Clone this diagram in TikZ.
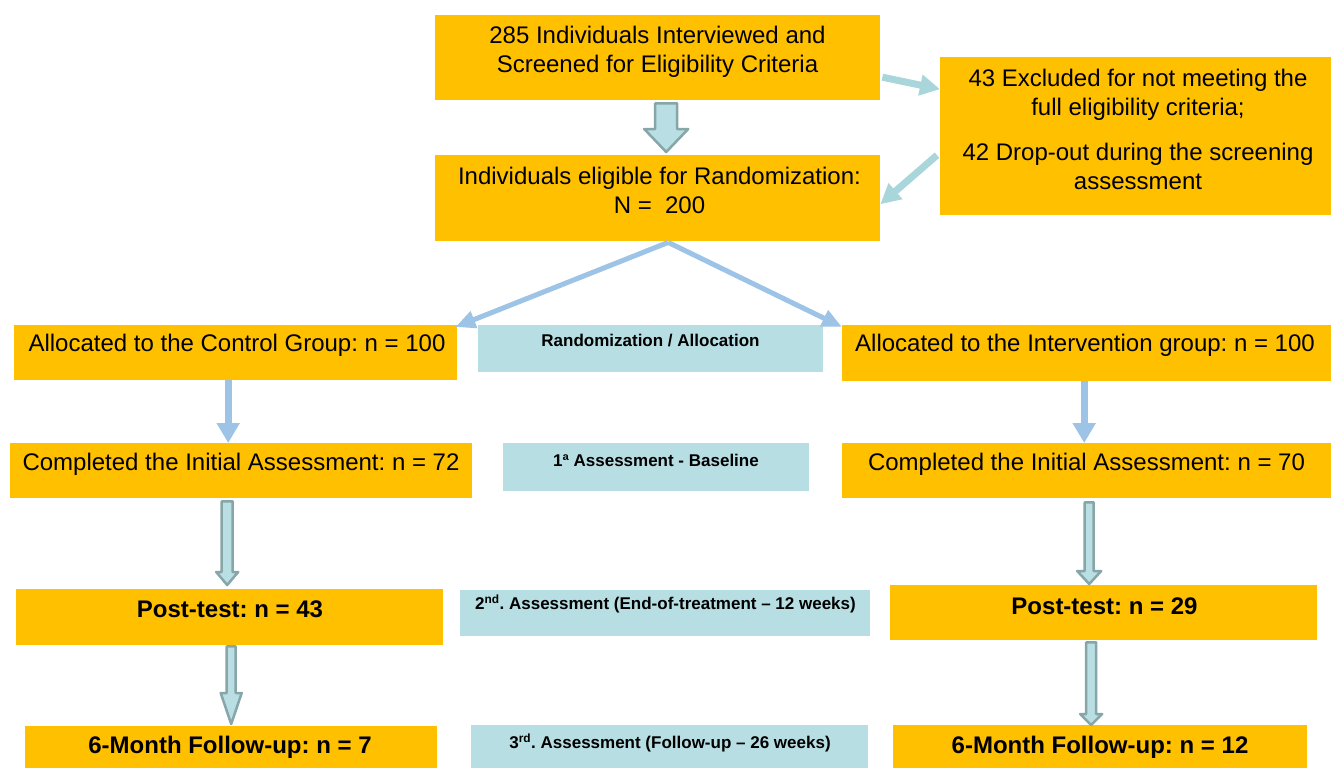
\documentclass[tikz,border=0pt]{standalone}
\usepackage{fontspec}
\setmainfont{Liberation Sans}
\usetikzlibrary{arrows.meta,calc}
\definecolor{orng}{HTML}{FFC000}
\definecolor{lblue}{HTML}{B7DEE3}
\definecolor{arrfill}{HTML}{B9DEE3}
\definecolor{arrline}{HTML}{86A6A8}
\definecolor{thinblue}{HTML}{9DC3E6}
\definecolor{cyanarr}{HTML}{A9D6DA}
\frenchspacing
% fat down arrow: start, end, shaft half width, head half width, head length
\newcommand\fatarr[5]{%
  \draw[fatarrow] let \p1=#1, \p2=#2 in
    (\x1-#3pt,\y1) -- (\x1-#3pt,\y2+#5pt) -- (\x1-#4pt,\y2+#5pt) -- (\x1,\y2)
    -- (\x1+#4pt,\y2+#5pt) -- (\x1+#3pt,\y2+#5pt) -- (\x1+#3pt,\y1) -- cycle;}
\begin{document}
\begin{tikzpicture}[x=1pt,y=-1pt,
  obox/.style={fill=orng, draw=none, inner sep=0pt, anchor=north west},
  bbox/.style={fill=lblue, draw=none, inner sep=0pt, anchor=north west},
  txt/.style={font=\fontsize{24}{29}\selectfont, align=center, inner sep=0pt},
  btxt/.style={font=\fontsize{24}{29}\selectfont\bfseries, align=center, inner sep=0pt},
  stxt/.style={font=\fontsize{17}{20}\selectfont\bfseries, align=center, inner sep=0pt},
  fatarrow/.style={fill=arrfill, draw=arrline, line width=2.5pt, line join=round},
  thinarrow/.style={draw=thinblue, line width=7pt, -{Triangle[width=22pt,length=20pt]}},
  splitarrow/.style={draw=thinblue, line width=5pt, -{Triangle[width=17pt,length=20pt]}},
  sidearrow/.style={draw=cyanarr, line width=7pt, -{Triangle[width=20pt,length=20pt]}},
]
\useasboundingbox[fill=white] (0,0) rectangle (1331,768);

% boxes
\node[obox, minimum width=445pt, minimum height=85pt] (top) at (435,15) {};
\node[obox, minimum width=391pt, minimum height=158pt] (excl) at (940,57) {};
\node[obox, minimum width=445pt, minimum height=86pt] (elig) at (435,155) {};
\node[obox, minimum width=443pt, minimum height=55pt] (cg) at (14,325) {};
\node[bbox, minimum width=345pt, minimum height=47pt] (rnd) at (478,325) {};
\node[obox, minimum width=489pt, minimum height=56pt] (ig) at (842,325) {};
\node[obox, minimum width=462pt, minimum height=55pt] (cc) at (10,443) {};
\node[bbox, minimum width=306pt, minimum height=48pt] (bl) at (503,443) {};
\node[obox, minimum width=489pt, minimum height=55pt] (ic) at (842,443) {};
\node[obox, minimum width=427pt, minimum height=56pt] (pc) at (16,589) {};
\node[bbox, minimum width=410pt, minimum height=46pt] (a2) at (460,590) {};
\node[obox, minimum width=427pt, minimum height=55pt] (pi) at (890,585) {};
\node[obox, minimum width=412pt, minimum height=42pt] (fc) at (25,726) {};
\node[bbox, minimum width=397pt, minimum height=43pt] (a3) at (471,725) {};
\node[obox, minimum width=414pt, minimum height=43pt] (fi) at (893,725) {};

% texts
\node[txt] (toptxt) at (657.5,51.5) {285 Individuals Interviewed and\\Screened for Eligibility Criteria};
\node[txt] (excltxt) at (1138,129) {43 Excluded for not meeting the\\full eligibility criteria;\\[16pt]42 Drop-out during the screening\\assessment};
\node[txt] (eligtxt) at (659.5,190.5) {Individuals eligible for Randomization:\\N =\ \ 200};
\node[txt] (cgtxt) at (237,345) {Allocated to the Control Group: n = 100};
\node[stxt] (rndtxt) at (650.5,341) {Randomization / Allocation};
\node[txt] (igtxt) at (1085,345) {Allocated to the Intervention group: n = 100};
\node[txt] (cctxt) at (241,464) {Completed the Initial Assessment: n = 72};
\node[stxt] (bltxt) at (656,460) {1ª Assessment - Baseline};
\node[txt] (ictxt) at (1086.5,464) {Completed the Initial Assessment: n = 70};
\node[btxt] (pctxt) at (230,609) {Post-test: n = 43};
\node[stxt] (a2txt) at (665.5,604) {2\textsuperscript{nd}. Assessment (End-of-treatment – 12 weeks)};
\node[btxt] (pitxt) at (1104.5,606) {Post-test: n = 29};
\node[btxt] (fctxt) at (230,747) {6-Month Follow-up: n = 7};
\node[stxt] (a3txt) at (670,743) {3\textsuperscript{rd}. Assessment (Follow-up – 26 weeks)};
\node[btxt] (fitxt) at (1100,747) {6-Month Follow-up: n = 12};

% side arrows
\draw[sidearrow] ([xshift=2pt,yshift=-19.5pt]top.east) -- ([yshift=47pt]excl.west);
\draw[sidearrow] ([xshift=-3pt,yshift=-19pt]excl.west) -- ([yshift=-6pt]elig.east);

% split arrows
\coordinate (apex) at ([xshift=10.5pt,yshift=-1pt]elig.south);
\draw[splitarrow] (apex) -- ([xshift=-2pt,yshift=-2pt]cg.north east);
\draw[splitarrow] (apex) -- ([yshift=-2pt]ig.north west);

% thin down arrows
\coordinate (t1) at ([xshift=-7.5pt]cg.south);
\draw[thinarrow] (t1) -- (t1 |- cc.north);
\coordinate (t2) at ([xshift=-2.5pt]ig.south);
\draw[thinarrow] (t2) -- (t2 |- ic.north);

% fat arrows
\fatarr{([xshift=8.5pt,yshift=-3pt]top.south)}{([yshift=3pt]elig.north)}{11}{22}{23}
\fatarr{([xshift=-14pt,yshift=-3pt]cc.south)}{([yshift=4pt]pc.north)}{5.5}{11}{13}
\fatarr{([xshift=1.5pt,yshift=-1pt]pc.south)}{([yshift=2pt]fc.north)}{4.5}{10.5}{31}
\fatarr{([xshift=2.5pt,yshift=-4pt]ic.south)}{([yshift=1pt]pi.north)}{4.5}{12}{13}
\fatarr{([xshift=-12.5pt,yshift=-2pt]pi.south)}{([yshift=0pt]fi.north)}{5}{11}{11}
\end{tikzpicture}
\end{document}
